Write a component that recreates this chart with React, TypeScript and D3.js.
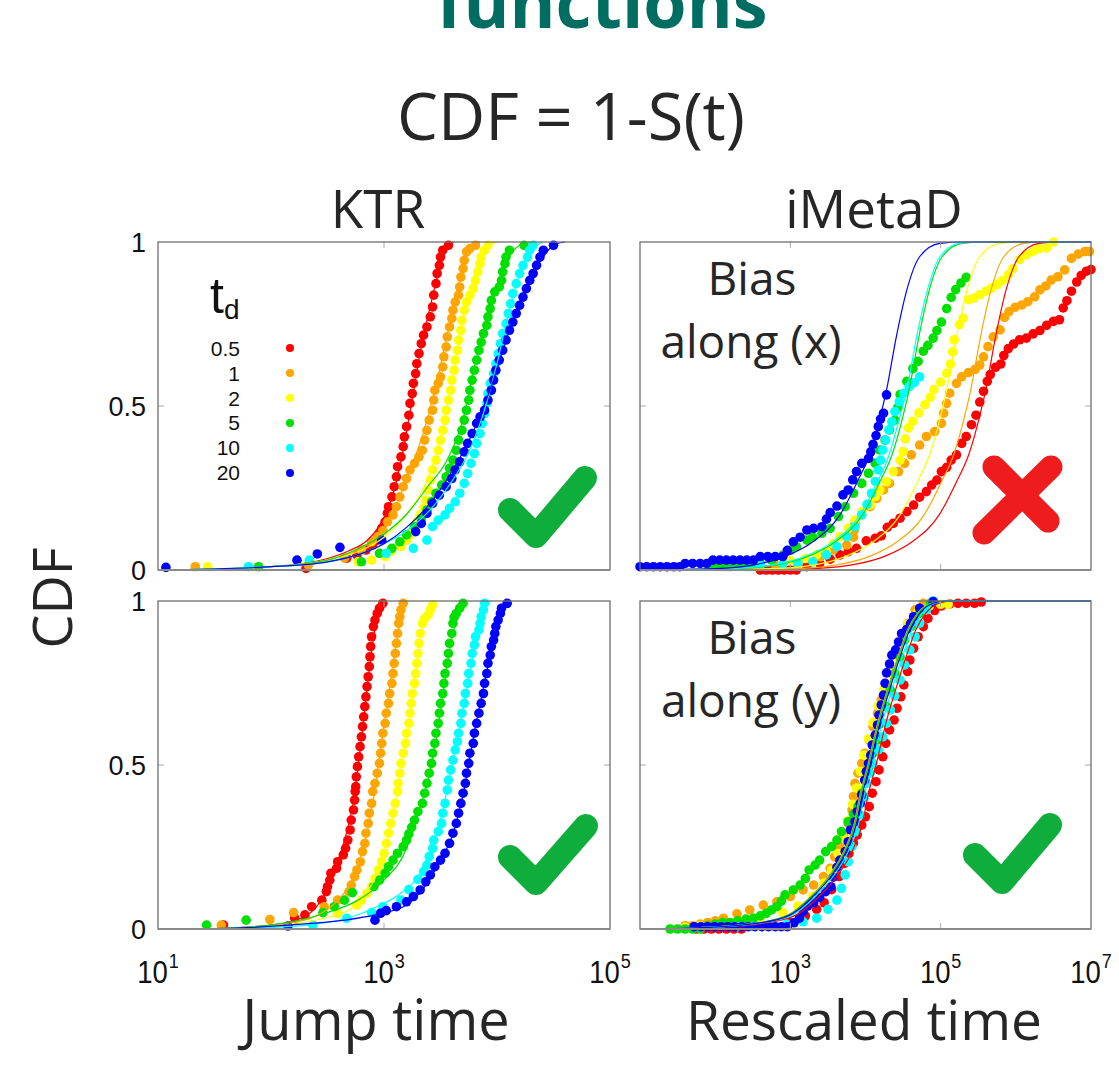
import React from 'react';
import * as d3 from 'd3';

// every point is [log10(time), CDF]
const TD_LABELS = ['0.5', '1', '2', '5', '10', '20'];
const SERIES_COLORS = ['#ff0000', '#ffa500', '#ffff00', '#00e000', '#00ffff', '#0000ff'];

const KTR_TICKS = [1, 3, 5];
const IMETAD_TICKS = [3, 5, 7];
const Y_TICKS = ['1', '0.5', '0'];

// ---- KTR, top
const ktrTopRed = [[2.31,0.005],[2.67,0.036],[2.76,0.046],[2.84,0.061],[2.9,0.076],[2.94,0.091],[2.96,0.112],[2.98,0.127],[3.01,0.147],[3.03,0.173],[3.04,0.193],[3.07,0.223],[3.09,0.254],[3.11,0.284],[3.12,0.315],[3.15,0.345],[3.17,0.376],[3.18,0.406],[3.2,0.437],[3.22,0.472],[3.23,0.508],[3.25,0.538],[3.26,0.569],[3.28,0.599],[3.29,0.629],[3.31,0.66],[3.33,0.69],[3.35,0.716],[3.38,0.741],[3.41,0.772],[3.43,0.802],[3.44,0.838],[3.46,0.873],[3.47,0.904],[3.49,0.929],[3.5,0.954],[3.52,0.975],[3.57,0.99]];
const ktrTopOrange = [[1.33,0.01],[2.33,0.015],[2.65,0.036],[2.8,0.061],[2.89,0.086],[2.94,0.102],[2.99,0.12],[3.03,0.147],[3.08,0.168],[3.11,0.193],[3.14,0.223],[3.17,0.254],[3.2,0.279],[3.23,0.305],[3.27,0.325],[3.31,0.345],[3.34,0.365],[3.36,0.396],[3.38,0.426],[3.4,0.457],[3.43,0.487],[3.44,0.518],[3.45,0.548],[3.48,0.569],[3.5,0.589],[3.52,0.619],[3.53,0.65],[3.55,0.68],[3.56,0.711],[3.58,0.741],[3.6,0.767],[3.61,0.792],[3.63,0.817],[3.66,0.838],[3.67,0.863],[3.68,0.893],[3.7,0.919],[3.71,0.944],[3.73,0.97],[3.76,0.98],[3.81,0.99]];
const ktrTopYellow = [[1.44,0.01],[2.77,0.025],[2.89,0.03],[3.01,0.041],[3.06,0.056],[3.15,0.071],[3.2,0.091],[3.23,0.107],[3.26,0.127],[3.29,0.147],[3.32,0.168],[3.35,0.188],[3.37,0.213],[3.39,0.244],[3.41,0.274],[3.43,0.305],[3.46,0.335],[3.48,0.365],[3.5,0.396],[3.52,0.426],[3.54,0.457],[3.55,0.487],[3.57,0.518],[3.59,0.548],[3.6,0.579],[3.62,0.609],[3.63,0.64],[3.65,0.67],[3.66,0.701],[3.68,0.731],[3.69,0.761],[3.71,0.792],[3.73,0.817],[3.76,0.838],[3.79,0.858],[3.81,0.883],[3.83,0.909],[3.85,0.934],[3.86,0.954],[3.89,0.975],[3.92,0.99]];
const ktrTopGreen = [[1.89,0.01],[2.8,0.025],[2.96,0.051],[3.07,0.066],[3.14,0.086],[3.2,0.107],[3.27,0.132],[3.33,0.157],[3.38,0.183],[3.42,0.208],[3.46,0.234],[3.51,0.259],[3.55,0.284],[3.58,0.31],[3.61,0.335],[3.64,0.365],[3.66,0.396],[3.69,0.426],[3.71,0.457],[3.73,0.487],[3.75,0.518],[3.76,0.548],[3.78,0.579],[3.8,0.609],[3.82,0.64],[3.84,0.67],[3.86,0.695],[3.88,0.721],[3.91,0.746],[3.92,0.772],[3.94,0.797],[3.95,0.822],[3.98,0.848],[4.02,0.863],[4.04,0.883],[4.05,0.909],[4.07,0.934],[4.08,0.954],[4.11,0.975],[4.24,0.99]];
const ktrTopCyan = [[1.8,0.01],[2.34,0.03],[3.02,0.051],[3.26,0.066],[3.38,0.091],[3.43,0.132],[3.48,0.152],[3.54,0.168],[3.58,0.188],[3.63,0.208],[3.67,0.234],[3.71,0.264],[3.74,0.294],[3.77,0.325],[3.8,0.355],[3.82,0.386],[3.85,0.416],[3.87,0.447],[3.89,0.477],[3.91,0.508],[3.92,0.538],[3.94,0.569],[3.97,0.599],[3.99,0.629],[4.01,0.66],[4.03,0.69],[4.05,0.721],[4.08,0.751],[4.1,0.782],[4.12,0.812],[4.14,0.843],[4.17,0.873],[4.2,0.904],[4.23,0.929],[4.27,0.954],[4.29,0.975],[4.32,0.99]];
const ktrTopBlue = [[1.07,0.008],[2.23,0.03],[2.41,0.049],[2.61,0.069],[2.98,0.091],[3.28,0.117],[3.33,0.142],[3.38,0.173],[3.43,0.203],[3.49,0.228],[3.55,0.254],[3.6,0.279],[3.63,0.305],[3.67,0.33],[3.71,0.36],[3.74,0.386],[3.78,0.416],[3.82,0.447],[3.85,0.467],[3.89,0.487],[3.92,0.518],[3.95,0.548],[3.97,0.579],[3.99,0.609],[4.02,0.64],[4.05,0.67],[4.08,0.701],[4.11,0.731],[4.14,0.756],[4.17,0.782],[4.2,0.807],[4.23,0.832],[4.26,0.858],[4.29,0.883],[4.32,0.904],[4.35,0.929],[4.38,0.954],[4.41,0.975],[4.5,0.99]];

const ktrTopFitRed = [[1,0],[1.5,0.003],[2,0.01],[2.3,0.02],[2.5,0.035],[2.7,0.06],[2.85,0.09],[2.95,0.13],[3.05,0.2],[3.15,0.33],[3.25,0.52],[3.33,0.68],[3.42,0.82],[3.5,0.93],[3.57,0.99],[3.62,1]];
const ktrTopFitOrange = [[1,0],[1.5,0.003],[2,0.01],[2.3,0.02],[2.5,0.03],[2.7,0.05],[2.9,0.09],[3.05,0.15],[3.2,0.28],[3.35,0.42],[3.45,0.55],[3.55,0.7],[3.65,0.86],[3.75,0.97],[3.85,1]];
const ktrTopFitYellow = [[1,0],[2,0.01],[2.5,0.03],[2.8,0.06],[3,0.1],[3.2,0.17],[3.35,0.25],[3.5,0.4],[3.6,0.57],[3.7,0.76],[3.8,0.9],[3.9,0.98],[4,1]];
const ktrTopFitGreen = [[1,0],[2,0.01],[2.5,0.03],[2.8,0.07],[3,0.11],[3.2,0.17],[3.4,0.26],[3.55,0.33],[3.7,0.46],[3.8,0.62],[3.9,0.75],[4,0.86],[4.1,0.95],[4.2,0.99],[4.3,1]];
const ktrTopFitCyan = [[1,0],[2,0.01],[2.5,0.025],[2.8,0.05],[3,0.08],[3.2,0.12],[3.4,0.18],[3.6,0.27],[3.75,0.36],[3.9,0.5],[4,0.63],[4.1,0.78],[4.2,0.9],[4.3,0.97],[4.4,1]];
const ktrTopFitBlue = [[1,0],[2,0.01],[2.5,0.025],[2.8,0.05],[3,0.08],[3.2,0.13],[3.4,0.2],[3.6,0.3],[3.8,0.43],[3.95,0.56],[4.1,0.72],[4.25,0.86],[4.4,0.95],[4.5,0.99],[4.6,1]];

// ---- KTR, bottom
const ktrBotRed = [[1.58,0.012],[2.21,0.033],[2.3,0.043],[2.36,0.068],[2.45,0.088],[2.49,0.114],[2.5,0.129],[2.52,0.149],[2.53,0.17],[2.58,0.185],[2.59,0.205],[2.64,0.226],[2.66,0.246],[2.68,0.271],[2.7,0.302],[2.71,0.332],[2.73,0.363],[2.74,0.393],[2.745,0.419],[2.75,0.434],[2.755,0.464],[2.765,0.495],[2.776,0.525],[2.788,0.556],[2.8,0.586],[2.81,0.617],[2.82,0.647],[2.83,0.678],[2.84,0.708],[2.85,0.739],[2.86,0.769],[2.87,0.8],[2.876,0.83],[2.882,0.861],[2.89,0.891],[2.906,0.922],[2.92,0.942],[2.94,0.962],[2.96,0.978],[2.99,0.993]];
const ktrBotOrange = [[1.56,0.012],[1.99,0.029],[2.2,0.05],[2.47,0.068],[2.59,0.088],[2.69,0.114],[2.71,0.134],[2.74,0.16],[2.76,0.18],[2.79,0.205],[2.81,0.236],[2.83,0.261],[2.84,0.292],[2.86,0.322],[2.87,0.353],[2.89,0.383],[2.9,0.419],[2.92,0.444],[2.94,0.475],[2.96,0.505],[2.97,0.536],[2.98,0.566],[2.99,0.597],[3.01,0.627],[3.02,0.658],[3.04,0.688],[3.05,0.718],[3.07,0.749],[3.08,0.779],[3.09,0.81],[3.1,0.84],[3.11,0.871],[3.12,0.901],[3.13,0.932],[3.14,0.952],[3.15,0.973],[3.17,0.993]];
const ktrBotYellow = [[2.37,0.012],[2.59,0.048],[2.76,0.073],[2.8,0.088],[2.85,0.109],[2.89,0.129],[2.92,0.154],[2.95,0.18],[2.98,0.205],[3,0.231],[3.02,0.261],[3.04,0.292],[3.06,0.322],[3.08,0.353],[3.1,0.383],[3.12,0.419],[3.124,0.444],[3.14,0.475],[3.15,0.505],[3.17,0.536],[3.19,0.566],[3.2,0.597],[3.22,0.627],[3.23,0.658],[3.24,0.688],[3.25,0.718],[3.27,0.749],[3.28,0.779],[3.29,0.81],[3.3,0.84],[3.31,0.871],[3.32,0.901],[3.34,0.932],[3.36,0.947],[3.39,0.957],[3.41,0.973],[3.43,0.988]];
const ktrBotGreen = [[1.43,0.012],[1.78,0.027],[2.46,0.05],[2.56,0.068],[2.65,0.088],[2.72,0.111],[2.91,0.129],[2.96,0.149],[3.01,0.17],[3.04,0.19],[3.08,0.21],[3.12,0.231],[3.17,0.251],[3.2,0.271],[3.22,0.29],[3.245,0.31],[3.27,0.332],[3.3,0.358],[3.34,0.383],[3.36,0.414],[3.38,0.444],[3.4,0.475],[3.42,0.505],[3.43,0.536],[3.45,0.566],[3.46,0.597],[3.48,0.627],[3.49,0.658],[3.5,0.688],[3.52,0.718],[3.53,0.749],[3.54,0.779],[3.56,0.81],[3.57,0.84],[3.58,0.871],[3.6,0.901],[3.61,0.932],[3.62,0.95],[3.64,0.962],[3.67,0.978],[3.7,0.993]];
const ktrBotCyan = [[2.37,0.012],[2.67,0.033],[2.89,0.05],[2.99,0.068],[3.15,0.088],[3.22,0.12],[3.3,0.151],[3.35,0.175],[3.38,0.195],[3.4,0.221],[3.43,0.246],[3.44,0.271],[3.48,0.297],[3.51,0.322],[3.52,0.353],[3.54,0.383],[3.56,0.424],[3.57,0.454],[3.59,0.485],[3.61,0.515],[3.63,0.546],[3.65,0.571],[3.66,0.597],[3.68,0.627],[3.69,0.658],[3.71,0.688],[3.72,0.718],[3.74,0.749],[3.75,0.779],[3.77,0.81],[3.78,0.84],[3.8,0.866],[3.81,0.891],[3.84,0.912],[3.85,0.932],[3.86,0.952],[3.88,0.973],[3.89,0.993]];
const ktrBotBlue = [[2.15,0.009],[2.92,0.027],[2.97,0.048],[3.02,0.056],[3.11,0.068],[3.2,0.083],[3.26,0.099],[3.32,0.119],[3.37,0.144],[3.41,0.165],[3.45,0.19],[3.5,0.21],[3.54,0.231],[3.58,0.261],[3.61,0.292],[3.64,0.322],[3.66,0.353],[3.68,0.383],[3.7,0.414],[3.72,0.444],[3.73,0.475],[3.75,0.505],[3.76,0.536],[3.79,0.566],[3.8,0.597],[3.82,0.627],[3.84,0.658],[3.86,0.688],[3.88,0.718],[3.89,0.749],[3.91,0.779],[3.92,0.81],[3.94,0.835],[3.95,0.861],[3.97,0.881],[3.98,0.901],[3.99,0.922],[4.01,0.942],[4.03,0.962],[4.04,0.978],[4.09,0.993]];

const ktrBotFitRed = [[1.4,0],[1.6,0.003],[2,0.012],[2.2,0.025],[2.35,0.05],[2.45,0.09],[2.55,0.17],[2.65,0.27],[2.72,0.37],[2.78,0.52],[2.83,0.67],[2.88,0.82],[2.93,0.93],[2.98,0.99],[3.02,1]];
const ktrBotFitOrange = [[1.4,0],[1.7,0.004],[2.1,0.015],[2.4,0.04],[2.6,0.09],[2.72,0.15],[2.82,0.25],[2.9,0.38],[2.97,0.55],[3.03,0.69],[3.09,0.83],[3.14,0.93],[3.18,0.99],[3.22,1]];
const ktrBotFitYellow = [[1.4,0],[1.8,0.004],[2.2,0.015],[2.5,0.035],[2.7,0.06],[2.85,0.11],[2.95,0.18],[3.05,0.3],[3.15,0.48],[3.22,0.62],[3.29,0.8],[3.35,0.92],[3.42,0.99],[3.46,1]];
const ktrBotFitGreen = [[1.4,0],[1.8,0.006],[2.18,0.022],[2.48,0.048],[2.77,0.088],[3,0.149],[3.2,0.246],[3.3,0.35],[3.4,0.47],[3.5,0.66],[3.58,0.85],[3.65,0.95],[3.72,1]];
const ktrBotFitCyan = [[1.4,0],[2,0.005],[2.4,0.015],[2.7,0.035],[2.95,0.07],[3.15,0.11],[3.3,0.16],[3.42,0.25],[3.52,0.36],[3.6,0.5],[3.7,0.67],[3.78,0.82],[3.85,0.93],[3.91,0.99],[3.95,1]];
const ktrBotFitBlue = [[1.4,0],[1.8,0.004],[2.15,0.012],[2.65,0.027],[2.92,0.043],[3.2,0.073],[3.36,0.129],[3.5,0.21],[3.6,0.28],[3.7,0.41],[3.8,0.6],[3.9,0.77],[3.98,0.9],[4.05,0.98],[4.1,1]];

// ---- iMetaD, bias along (x)
const imxRed = [[2.6,0],[2.68,0],[2.76,0],[2.84,0],[2.92,0],[3,0],[3.08,0],[3.22,0.01],[3.39,0.02],[3.53,0.033],[3.66,0.046],[3.77,0.056],[3.88,0.066],[4.01,0.089],[4.13,0.097],[4.21,0.104],[4.29,0.13],[4.37,0.142],[4.46,0.158],[4.55,0.178],[4.64,0.198],[4.72,0.222],[4.81,0.239],[4.88,0.259],[4.95,0.274],[5.01,0.3],[5.08,0.313],[5.14,0.335],[5.21,0.351],[5.28,0.386],[5.34,0.407],[5.41,0.443],[5.47,0.472],[5.52,0.512],[5.57,0.545],[5.62,0.575],[5.66,0.596],[5.73,0.618],[5.8,0.628],[5.84,0.654],[5.9,0.675],[5.97,0.689],[6.05,0.702],[6.14,0.707],[6.23,0.72],[6.32,0.73],[6.41,0.746],[6.5,0.758],[6.58,0.763],[6.63,0.799],[6.68,0.821],[6.74,0.85],[6.81,0.878],[6.87,0.898],[6.94,0.911],[7,0.916]];
const imxOrange = [[2.2,0.01],[2.5,0.012],[2.8,0.015],[3.1,0.02],[3.4,0.04],[3.57,0.061],[3.75,0.076],[3.84,0.1],[3.85,0.12],[3.86,0.142],[3.95,0.168],[4.06,0.193],[4.15,0.218],[4.24,0.244],[4.32,0.264],[4.44,0.3],[4.52,0.325],[4.61,0.351],[4.72,0.381],[4.81,0.407],[4.92,0.422],[5.01,0.447],[5.04,0.478],[5.08,0.508],[5.12,0.539],[5.21,0.569],[5.28,0.589],[5.37,0.602],[5.46,0.612],[5.52,0.625],[5.57,0.65],[5.63,0.681],[5.7,0.711],[5.79,0.732],[5.85,0.77],[5.91,0.788],[5.99,0.801],[6.08,0.808],[6.16,0.818],[6.25,0.833],[6.32,0.854],[6.4,0.866],[6.47,0.884],[6.56,0.894],[6.65,0.915],[6.74,0.95],[6.83,0.963],[6.92,0.971],[6.98,0.971]];
const imxYellow = [[1.9,0.012],[2,0.012],[2.3,0.015],[2.6,0.02],[2.9,0.025],[3,0.028],[3.2,0.035],[3.35,0.046],[3.48,0.056],[3.57,0.08],[3.66,0.102],[3.77,0.127],[3.86,0.152],[3.95,0.178],[4.06,0.198],[4.13,0.224],[4.19,0.244],[4.28,0.269],[4.37,0.3],[4.46,0.335],[4.5,0.361],[4.53,0.4],[4.57,0.433],[4.63,0.453],[4.71,0.479],[4.79,0.504],[4.86,0.526],[4.91,0.55],[5,0.573],[5.08,0.6],[5.13,0.628],[5.16,0.665],[5.18,0.702],[5.25,0.748],[5.3,0.768],[5.37,0.824],[5.44,0.829],[5.52,0.839],[5.6,0.85],[5.68,0.86],[5.75,0.87],[5.82,0.882],[5.9,0.9],[5.96,0.919],[6.05,0.946],[6.14,0.961],[6.23,0.972],[6.31,0.98],[6.41,0.982],[6.5,1]];
const imxGreen = [[1.9,0.015],[2,0.015],[2.1,0.015],[2.2,0.015],[2.3,0.015],[2.4,0.015],[2.5,0.015],[2.6,0.02],[2.75,0.03],[2.9,0.045],[3,0.06],[3.08,0.071],[3.22,0.091],[3.3,0.1],[3.42,0.112],[3.53,0.127],[3.64,0.163],[3.73,0.193],[3.84,0.234],[3.95,0.264],[4.04,0.295],[4.13,0.325],[4.19,0.366],[4.26,0.396],[4.32,0.427],[4.39,0.457],[4.43,0.495],[4.46,0.535],[4.55,0.575],[4.63,0.614],[4.7,0.636],[4.77,0.667],[4.83,0.685],[4.9,0.707],[4.95,0.73],[5.01,0.756],[5.08,0.797],[5.14,0.831],[5.2,0.855],[5.27,0.875],[5.34,0.892]];
const imxCyan = [[2.6,0.015],[2.9,0.018],[3.1,0.02],[3.3,0.025],[3.48,0.046],[3.62,0.071],[3.75,0.102],[3.86,0.132],[3.95,0.168],[4.02,0.2],[4.08,0.234],[4.13,0.27],[4.17,0.305],[4.2,0.335],[4.23,0.366],[4.27,0.396],[4.31,0.427],[4.35,0.452],[4.39,0.483],[4.45,0.513],[4.51,0.539],[4.58,0.559],[4.65,0.571],[4.72,0.589]];
const imxBlue = [[1,0.01],[1.09,0.01],[1.18,0.01],[1.27,0.01],[1.36,0.01],[1.45,0.01],[1.53,0.01],[1.6,0.02],[1.7,0.02],[1.8,0.02],[1.89,0.02],[1.97,0.03],[2.06,0.03],[2.15,0.03],[2.24,0.03],[2.33,0.03],[2.42,0.03],[2.51,0.03],[2.6,0.041],[2.7,0.041],[2.8,0.041],[2.9,0.041],[2.96,0.06],[3.04,0.086],[3.13,0.1],[3.22,0.122],[3.31,0.127],[3.42,0.132],[3.48,0.155],[3.53,0.175],[3.62,0.195],[3.7,0.229],[3.77,0.244],[3.83,0.275],[3.88,0.3],[3.95,0.325],[4.04,0.34],[4.07,0.36],[4.1,0.383],[4.14,0.41],[4.17,0.437],[4.2,0.46],[4.24,0.478],[4.28,0.534]];

const imxFitRed = [[1,0],[3.2,0.004],[3.8,0.015],[4.27,0.043],[4.62,0.086],[4.98,0.168],[5.2,0.264],[5.38,0.356],[5.52,0.47],[5.6,0.549],[5.73,0.711],[5.87,0.854],[6.04,0.955],[6.31,0.996],[6.6,1],[7,1]];
const imxFitOrange = [[1,0],[3,0.004],[3.6,0.015],[4.07,0.043],[4.42,0.086],[4.78,0.168],[5,0.264],[5.18,0.356],[5.32,0.47],[5.4,0.549],[5.53,0.711],[5.67,0.854],[5.84,0.955],[6.11,0.996],[6.4,1],[7,1]];
const imxFitYellow = [[1,0],[2.7,0.004],[3.3,0.015],[3.75,0.043],[4.1,0.086],[4.46,0.168],[4.68,0.264],[4.86,0.356],[5,0.47],[5.08,0.549],[5.21,0.711],[5.35,0.854],[5.52,0.955],[5.79,0.996],[6.1,1],[7,1]];
const imxFitGreen = [[1,0],[2.25,0.004],[2.8,0.015],[3.25,0.043],[3.6,0.086],[3.96,0.168],[4.18,0.264],[4.36,0.356],[4.5,0.47],[4.58,0.549],[4.71,0.711],[4.85,0.854],[5.02,0.955],[5.29,0.996],[5.6,1],[7,1]];
const imxFitCyan = [[1,0],[2.2,0.004],[2.75,0.015],[3.2,0.042],[3.56,0.085],[3.92,0.165],[4.14,0.26],[4.32,0.355],[4.46,0.47],[4.55,0.55],[4.68,0.71],[4.82,0.85],[4.99,0.955],[5.25,0.996],[5.55,1],[7,1]];
const imxFitBlue = [[1,0],[2,0.004],[2.5,0.015],[2.95,0.043],[3.3,0.086],[3.66,0.168],[3.88,0.264],[4.06,0.356],[4.2,0.47],[4.28,0.549],[4.41,0.711],[4.55,0.854],[4.72,0.955],[4.99,0.996],[5.3,1],[7,1]];

// ---- iMetaD, bias along (y)
const imyRed = [[1.75,0],[1.85,0],[1.95,0],[2.05,0],[2.15,0],[2.25,0],[2.35,0],[2.7,0.01],[3,0.02],[3.2,0.04],[3.35,0.06],[3.45,0.08],[3.55,0.12],[3.65,0.16],[3.72,0.2],[3.78,0.23],[3.84,0.261],[3.89,0.287],[3.95,0.317],[4,0.342],[4.05,0.373],[4.09,0.414],[4.14,0.449],[4.18,0.485],[4.23,0.525],[4.27,0.566],[4.32,0.607],[4.38,0.637],[4.42,0.673],[4.47,0.708],[4.51,0.744],[4.56,0.785],[4.59,0.82],[4.64,0.856],[4.7,0.891],[4.77,0.922],[4.83,0.947],[4.92,0.971],[5.01,0.985],[5.12,0.991],[5.23,0.993],[5.34,0.993],[5.45,0.993],[5.54,0.997]];
const imyOrange = [[1.6,0.01],[1.7,0.01],[1.8,0.015],[1.9,0.02],[2,0.025],[2.11,0.033],[2.29,0.046],[2.46,0.058],[2.64,0.073],[2.82,0.083],[3,0.099],[3.17,0.119],[3.31,0.134],[3.44,0.16],[3.53,0.185],[3.59,0.22],[3.66,0.251],[3.71,0.282],[3.77,0.322],[3.82,0.363],[3.84,0.404],[3.86,0.444],[3.9,0.475],[3.95,0.505],[3.99,0.536],[4.05,0.576],[4.1,0.617],[4.16,0.658],[4.21,0.698],[4.27,0.739],[4.33,0.79],[4.4,0.84],[4.48,0.891],[4.56,0.932],[4.66,0.973],[4.77,0.993]];
const imyYellow = [[1.6,0.005],[1.8,0.01],[2,0.012],[2.3,0.02],[2.6,0.035],[2.9,0.05],[3.1,0.07],[3.3,0.1],[3.45,0.14],[3.55,0.18],[3.63,0.23],[3.7,0.28],[3.77,0.33],[3.83,0.38],[3.88,0.43],[3.93,0.48],[3.98,0.53],[4.04,0.58],[4.1,0.63],[4.17,0.68],[4.24,0.73],[4.31,0.78],[4.38,0.83],[4.46,0.88],[4.56,0.93],[4.7,0.97],[4.85,0.985],[5,0.99],[5.1,0.99]];
const imyGreen = [[1.4,0],[1.5,0],[1.6,0],[1.7,0],[1.8,0],[1.9,0.01],[2,0.015],[2.1,0.02],[2.2,0.02],[2.3,0.025],[2.41,0.03],[2.51,0.033],[2.6,0.04],[2.68,0.048],[2.75,0.058],[2.82,0.068],[2.88,0.085],[2.93,0.104],[3.04,0.119],[3.13,0.134],[3.2,0.154],[3.25,0.18],[3.33,0.195],[3.39,0.21],[3.47,0.236],[3.55,0.251],[3.62,0.271],[3.68,0.297],[3.77,0.327],[3.84,0.35],[3.9,0.373],[3.95,0.414],[3.99,0.454],[4.05,0.495],[4.1,0.536],[4.16,0.576],[4.21,0.627],[4.28,0.678],[4.33,0.729],[4.39,0.779],[4.46,0.83],[4.52,0.881],[4.61,0.922],[4.72,0.962],[4.86,0.993]];
const imyCyan = [[2.3,0.007],[2.5,0.008],[2.77,0.01],[2.95,0.015],[3.17,0.022],[3.35,0.033],[3.5,0.06],[3.62,0.088],[3.68,0.124],[3.73,0.165],[3.77,0.205],[3.82,0.251],[3.87,0.297],[3.93,0.348],[3.98,0.398],[4.01,0.444],[4.06,0.475],[4.1,0.505],[4.17,0.546],[4.23,0.586],[4.28,0.627],[4.33,0.668],[4.39,0.71],[4.46,0.759],[4.52,0.805],[4.59,0.851],[4.66,0.891],[4.72,0.932],[4.81,0.973],[4.9,1]];
const imyBlue = [[1.72,0.007],[1.81,0.007],[1.9,0.007],[1.99,0.007],[2.08,0.007],[2.17,0.007],[2.26,0.007],[2.35,0.007],[2.44,0.007],[2.53,0.007],[2.62,0.007],[2.71,0.007],[2.8,0.007],[2.88,0.007],[2.96,0.007],[3.05,0.019],[3.12,0.033],[3.17,0.053],[3.23,0.07],[3.31,0.08],[3.39,0.097],[3.47,0.114],[3.54,0.129],[3.57,0.158],[3.62,0.188],[3.66,0.21],[3.73,0.236],[3.77,0.266],[3.8,0.302],[3.86,0.327],[3.89,0.358],[3.93,0.383],[3.95,0.409],[3.99,0.454],[4.01,0.48],[4.04,0.505],[4.07,0.53],[4.09,0.561],[4.13,0.591],[4.16,0.622],[4.18,0.652],[4.21,0.683],[4.24,0.713],[4.26,0.749],[4.28,0.781],[4.32,0.808],[4.35,0.835],[4.4,0.851],[4.44,0.875],[4.48,0.901],[4.55,0.914],[4.6,0.932],[4.64,0.952],[4.72,0.978],[4.9,0.998]];

const imyFitRed = [[1,0],[1.97,0.005],[2.63,0.017],[3.08,0.043],[3.38,0.099],[3.65,0.17],[3.83,0.241],[3.96,0.322],[4.03,0.403],[4.14,0.5],[4.27,0.627],[4.4,0.729],[4.54,0.83],[4.67,0.912],[4.8,0.962],[4.98,0.993],[5.16,1],[7,1]];
const imyFitOrange = [[1,0],[1.86,0.005],[2.52,0.017],[2.97,0.043],[3.27,0.099],[3.54,0.17],[3.72,0.241],[3.85,0.322],[3.92,0.403],[4.03,0.5],[4.16,0.627],[4.29,0.729],[4.43,0.83],[4.56,0.912],[4.69,0.962],[4.87,0.993],[5.05,1],[7,1]];
const imyFitYellow = [[1,0],[1.88,0.005],[2.54,0.017],[2.99,0.043],[3.29,0.099],[3.56,0.17],[3.74,0.241],[3.87,0.322],[3.94,0.403],[4.05,0.5],[4.18,0.627],[4.31,0.729],[4.45,0.83],[4.58,0.912],[4.71,0.962],[4.89,0.993],[5.07,1],[7,1]];
const imyFitGreen = [[1,0],[1.87,0.005],[2.53,0.017],[2.98,0.043],[3.28,0.099],[3.55,0.17],[3.73,0.241],[3.86,0.322],[3.93,0.403],[4.04,0.5],[4.17,0.627],[4.3,0.729],[4.44,0.83],[4.57,0.912],[4.7,0.962],[4.88,0.993],[5.06,1],[7,1]];
const imyFitCyan = [[1,0],[1.92,0.005],[2.58,0.017],[3.03,0.043],[3.33,0.099],[3.6,0.17],[3.78,0.241],[3.91,0.322],[3.98,0.403],[4.09,0.5],[4.22,0.627],[4.35,0.729],[4.49,0.83],[4.62,0.912],[4.75,0.962],[4.93,0.993],[5.11,1],[7,1]];
const imyFitBlue = [[1,0],[1.89,0.005],[2.55,0.017],[3,0.043],[3.3,0.099],[3.57,0.17],[3.75,0.241],[3.88,0.322],[3.95,0.403],[4.06,0.5],[4.19,0.627],[4.32,0.729],[4.46,0.83],[4.59,0.912],[4.72,0.962],[4.9,0.993],[5.08,1],[7,1]];

const TEXT = '#262626';
const SANS = "'Open Sans', 'Noto Sans', sans-serif";
const ARIAL = "'Liberation Sans', Arial, sans-serif";

type Pt = number[];

interface PanelProps {
  left: number;
  top: number;
  width: number;
  height: number;
  domain: [number, number];
  xTicks: number[];
  points: Pt[][];
  fits: Pt[][];
}

function Panel({ left, top, width, height, domain, xTicks, points, fits }: PanelProps) {
  const x = d3.scaleLog().domain([10 ** domain[0], 10 ** domain[1]]).range([left, left + width]);
  const y = d3.scaleLinear().domain([0, 1]).range([top + height, top]);
  const line = d3.line<Pt>()
    .x(d => x(10 ** d[0]))
    .y(d => y(d[1]))
    .curve(d3.curveMonotoneX);

  const inner = xTicks.filter(t => t > domain[0] && t < domain[1]);

  return (
    <g>
      <rect x={left} y={top} width={width} height={height} fill="#fff" />
      {points.map((s, i) => (
        <g key={'p' + i} fill={SERIES_COLORS[i]}>
          {s.map((d, j) => (
            <circle key={j} cx={x(10 ** d[0])} cy={y(d[1])} r={4.8} />
          ))}
        </g>
      ))}
      {fits.map((s, i) => (
        <path key={'f' + i} d={line(s) || ''} fill="none" stroke={SERIES_COLORS[i]} strokeWidth={1.2} />
      ))}
      {inner.map(t => (
        <g key={'t' + t} stroke="#aaa" strokeWidth={1}>
          <line x1={x(10 ** t)} x2={x(10 ** t)} y1={top + height} y2={top + height - 6} />
          <line x1={x(10 ** t)} x2={x(10 ** t)} y1={top} y2={top + 6} />
        </g>
      ))}
      <g stroke="#aaa" strokeWidth={1}>
        <line x1={left} x2={left + 6} y1={y(0.5)} y2={y(0.5)} />
        <line x1={left + width} x2={left + width - 6} y1={y(0.5)} y2={y(0.5)} />
      </g>
      <rect x={left} y={top} width={width} height={height} fill="none" stroke="#6e6e6e" strokeWidth={1.3} />
      <line x1={left} x2={left + width} y1={top + height} y2={top + height} stroke="#8a8a8a" strokeWidth={2} />
    </g>
  );
}

function Check({ pts }: { pts: number[][] }) {
  return (
    <path
      d={d3.line()(pts as [number, number][]) || ''}
      fill="none"
      stroke="#0fae3c"
      strokeWidth={24}
      strokeLinecap="round"
      strokeLinejoin="round"
    />
  );
}

function XTickLabels({ left, width, domain, ticks }: { left: number; width: number; domain: [number, number]; ticks: number[] }) {
  const x = d3.scaleLog().domain([10 ** domain[0], 10 ** domain[1]]).range([left, left + width]);
  return (
    <g fontFamily={ARIAL} fill="#111" textAnchor="middle">
      {ticks.map(t => (
        <text key={t} transform={`translate(${x(10 ** t)},983) scale(0.86,1)`} fontSize={32}>
          10<tspan fontSize={21} dx={1} dy={-15}>{t}</tspan>
        </text>
      ))}
    </g>
  );
}

export default function App() {
  const LX = 158, RX = 640, LW = 452, RW = 451, TY = 242, BY = 601, H = 328;
  const yl = d3.scaleLinear().domain([0, 1]).range([H, 0]);
  const yTickVals = [1, 0.5, 0];

  return (
    <svg width={1119} height={1069} style={{ position: 'absolute', left: 0, top: 0, background: '#fff' }}>
      <rect width={1119} height={1069} fill="#fff" />
      <text x={602} y={28} textAnchor="middle" fontFamily={SANS} fontWeight={700} fontSize={70} fill="#006d63">functions</text>
      <text x={571} y={140} textAnchor="middle" fontFamily={SANS} fontSize={65} fill={TEXT}>CDF = 1-S(t)</text>
      <text x={378} y={228} textAnchor="middle" fontFamily={SANS} fontSize={53} fill={TEXT}>KTR</text>
      <text x={874} y={228} textAnchor="middle" fontFamily={SANS} fontSize={53} fill={TEXT}>iMetaD</text>
      <text transform="translate(72,598) rotate(-90)" textAnchor="middle" fontFamily={SANS} fontSize={54} fill={TEXT}>CDF</text>

      <Panel left={LX} top={TY} width={LW} height={H} domain={[1, 5]} xTicks={KTR_TICKS}
        points={[ktrTopRed, ktrTopOrange, ktrTopYellow, ktrTopGreen, ktrTopCyan, ktrTopBlue]}
        fits={[ktrTopFitRed, ktrTopFitOrange, ktrTopFitYellow, ktrTopFitGreen, ktrTopFitCyan, ktrTopFitBlue]} />
      <Panel left={RX} top={TY} width={RW} height={H} domain={[1, 7]} xTicks={IMETAD_TICKS}
        points={[imxRed, imxOrange, imxYellow, imxGreen, imxCyan, imxBlue]}
        fits={[imxFitRed, imxFitOrange, imxFitYellow, imxFitGreen, imxFitCyan, imxFitBlue]} />
      <Panel left={LX} top={BY} width={LW} height={H} domain={[1, 5]} xTicks={KTR_TICKS}
        points={[ktrBotRed, ktrBotOrange, ktrBotYellow, ktrBotGreen, ktrBotCyan, ktrBotBlue]}
        fits={[ktrBotFitRed, ktrBotFitOrange, ktrBotFitYellow, ktrBotFitGreen, ktrBotFitCyan, ktrBotFitBlue]} />
      <Panel left={RX} top={BY} width={RW} height={H} domain={[1, 7]} xTicks={IMETAD_TICKS}
        points={[imyRed, imyOrange, imyYellow, imyGreen, imyCyan, imyBlue]}
        fits={[imyFitRed, imyFitOrange, imyFitYellow, imyFitGreen, imyFitCyan, imyFitBlue]} />

      {/* y tick labels */}
      <g fontFamily={ARIAL} fontSize={27} fill="#111" textAnchor="end">
        {[TY, BY].map(top => yTickVals.map((v, i) => (
          <text key={top + '-' + v} x={146} y={top + yl(v) + 10}>{Y_TICKS[i]}</text>
        )))}
      </g>

      <XTickLabels left={LX} width={LW} domain={[1, 5]} ticks={KTR_TICKS} />
      <XTickLabels left={RX} width={RW} domain={[1, 7]} ticks={IMETAD_TICKS} />

      <text x={376} y={1040} textAnchor="middle" fontFamily={SANS} fontSize={56} fill={TEXT}>Jump time</text>
      <text x={864} y={1040} textAnchor="middle" fontFamily={SANS} fontSize={55} fill={TEXT}>Rescaled time</text>

      {/* legend */}
      <text x={210} y={313} fontFamily={ARIAL} fontSize={50} fill="#111">t<tspan fontSize={28} dy={6}>d</tspan></text>
      <g fontFamily={ARIAL} fontSize={21} fill="#111">
        {TD_LABELS.map((lab, i) => (
          <g key={lab}>
            <text x={240} y={356 + i * 24.8} textAnchor="end">{lab}</text>
            <circle cx={290} cy={348 + i * 25} r={4} fill={SERIES_COLORS[i]} />
          </g>
        ))}
      </g>

      <text x={752} y={295} textAnchor="middle" fontFamily={SANS} fontSize={46} fill={TEXT}>Bias</text>
      <text x={751} y={358} textAnchor="middle" fontFamily={SANS} fontSize={46} fill={TEXT}>along (x)</text>
      <text x={752} y={654} textAnchor="middle" fontFamily={SANS} fontSize={46} fill={TEXT}>Bias</text>
      <text x={751} y={717} textAnchor="middle" fontFamily={SANS} fontSize={46} fill={TEXT}>along (y)</text>

      <Check pts={[[510, 510], [536, 536], [585, 478]]} />
      <Check pts={[[510, 857], [536, 883], [586, 826]]} />
      <Check pts={[[975, 855], [1002, 882], [1050, 825]]} />
      <g stroke="#ee1c1c" strokeWidth={23} strokeLinecap="round">
        <line x1={984} y1={533} x2={1051} y2={467} />
        <line x1={994} y1={467} x2={1048} y2={521} />
      </g>
    </svg>
  );
}
